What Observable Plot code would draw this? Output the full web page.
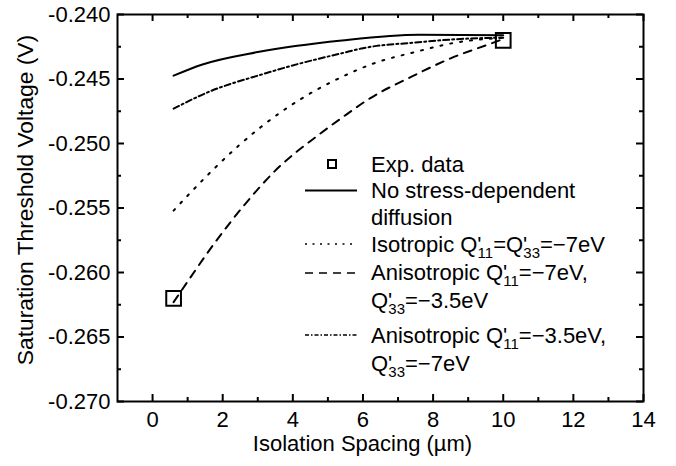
<!DOCTYPE html>
<html><head><meta charset="utf-8">
<script src="https://cdn.jsdelivr.net/npm/d3@7"></script>
<script src="https://cdn.jsdelivr.net/npm/@observablehq/plot@0.6"></script>
<style>body{margin:0;background:#fff}</style>
</head><body><div id="chart"></div>
<script>
const FONT = "'Liberation Sans', Arial, Helvetica, sans-serif";

// Experimental data
const expX = [0.6, 10];
const expY = [-0.2620, -0.2420];

// No stress-dependent diffusion (solid)
const noneX = [0.6, 1.4, 3.0, 5.4, 7.6, 10];
const noneY = [-0.24474, -0.24389, -0.24291, -0.24201, -0.24157, -0.2416];

// Isotropic Q'11=Q'33=-7eV (dotted)
const isoX = [0.6, 1.05, 1.7, 2.4, 3.1, 4.2, 5.2, 6.3, 7.5, 8.6, 10];
const isoY = [-0.2552, -0.2539, -0.2521, -0.2503, -0.2487, -0.2466, -0.2451, -0.2438, -0.2429, -0.2422, -0.2418];

// Anisotropic Q'11=-7eV, Q'33=-3.5eV (dashed)
const an1X = [0.6, 0.95, 1.8, 2.7, 3.5, 4.7, 5.4, 6.2, 7.4, 8.5, 9.7, 10];
const an1Y = [-0.2623, -0.2609, -0.2576, -0.2545, -0.2521, -0.2494, -0.2480, -0.2465, -0.2448, -0.2434, -0.2422, -0.2419];

// Anisotropic Q'11=-3.5eV, Q'33=-7eV (dash-dot)
const an2X = [0.6, 1.6, 3.1, 4.2, 5.4, 6.0, 7.5, 8.9, 10];
const an2Y = [-0.2473, -0.2460, -0.24466, -0.2438, -0.2430, -0.24261, -0.24217, -0.24188, -0.2418];

// Ticks
const xMajor = [0, 2, 4, 6, 8, 10, 12, 14];
const xMinor = [1, 3, 5, 7, 9, 11, 13];
const yMajor = [-0.270, -0.265, -0.260, -0.255, -0.250, -0.245, -0.240];
const yMinor = [-0.2675, -0.2625, -0.2575, -0.2525, -0.2475, -0.2425];

const W = 676, H = 466;
const mL = 117, mR = 33, mT = 14, mB = 65;
const fw = W - mL - mR, fh = H - mT - mB;

const pts = (xs, ys) => xs.map((x, i) => ({x, y: ys[i]}));

const series = [
  {data: pts(noneX, noneY), dash: null},
  {data: pts(isoX, isoY), dash: "2,8"},
  {data: pts(an1X, an1Y), dash: "8,7"},
  {data: pts(an2X, an2Y), dash: "6,3,2,3"}
];

function legend(index, scales, values, dims) {
  const g = d3.create("svg:g")
    .attr("font-family", FONT).attr("font-size", 22).attr("fill", "black")
    .attr("text-anchor", "start");
  const lx1 = 305, lx2 = 357, tx = 371;
  g.append("rect").attr("x", 328).attr("y", 160).attr("width", 8).attr("height", 8)
    .attr("fill", "none").attr("stroke", "black").attr("stroke-width", 2);
  const sample = (y, dash) => {
    const l = g.append("line").attr("x1", lx1).attr("x2", lx2).attr("y1", y).attr("y2", y)
      .attr("stroke", "black").attr("stroke-width", dash ? 1.5 : 2);
    if (dash) l.attr("stroke-dasharray", dash);
  };
  const line = (y, parts) => {
    const t = g.append("text").attr("x", tx).attr("y", y).attr("text-anchor", "start");
    let shifted = false;
    for (const p of parts) {
      if (typeof p === "string") {
        const s = t.append("tspan").text(p);
        if (shifted) { s.attr("dy", -6); shifted = false; }
      } else {
        t.append("tspan").attr("dx", -4).attr("dy", 6).attr("font-size", 15).text(p.sub);
        shifted = true;
      }
    }
  };
  line(172, ["Exp. data"]);
  sample(190.5, null);
  line(198, ["No stress-dependent"]);
  line(225, ["diffusion"]);
  sample(244, "2,5.5");
  line(252, ["Isotropic Q'", {sub: "11"}, "=Q'", {sub: "33"}, "=\u22127eV"]);
  sample(273, "8,6");
  line(280, ["Anisotropic Q'", {sub: "11"}, "=\u22127eV,"]);
  line(308, ["Q'", {sub: "33"}, "=\u22123.5eV"]);
  sample(335, "4,2,1.5,2");
  line(343, ["Anisotropic Q'", {sub: "11"}, "=\u22123.5eV,"]);
  line(371, ["Q'", {sub: "33"}, "=\u22127eV"]);
  return g.node();
}

const marks = [
  ...series.map(s => Plot.line(s.data, {
    x: "x", y: "y", curve: "monotone-x", stroke: "black", strokeWidth: 2,
    strokeDasharray: s.dash ?? undefined
  })),
  Plot.dot(pts(expX, expY), {x: "x", y: "y", symbol: "square", r: 8.3, stroke: "black", fill: "none", strokeWidth: 2}),
  Plot.frame({stroke: "black", strokeWidth: 2}),
  Plot.tickX(xMajor, {x: d => d, insetTop: fh - 7, strokeWidth: 2}),
  Plot.tickX(xMajor, {x: d => d, insetBottom: fh - 7, strokeWidth: 2}),
  Plot.tickX(xMinor, {x: d => d, insetTop: fh - 4, strokeWidth: 2}),
  Plot.tickX(xMinor, {x: d => d, insetBottom: fh - 4, strokeWidth: 2}),
  Plot.tickY(yMajor, {y: d => d, insetRight: fw - 7, strokeWidth: 2}),
  Plot.tickY(yMajor, {y: d => d, insetLeft: fw - 7, strokeWidth: 2}),
  Plot.tickY(yMinor, {y: d => d, insetRight: fw - 4, strokeWidth: 2}),
  Plot.tickY(yMinor, {y: d => d, insetLeft: fw - 4, strokeWidth: 2}),
  Plot.axisX({ticks: xMajor, tickSize: 0, tickPadding: 10, label: null, tickFormat: d => String(d)}),
  Plot.axisY({ticks: yMajor, tickSize: 0, tickPadding: 7, label: null, tickFormat: d => d.toFixed(3)}),
  Plot.text(["Isolation Spacing (\u00b5m)"], {frameAnchor: "bottom", text: d => d, textAnchor: "middle", lineAnchor: "middle", dx: -18, dy: 42, fontSize: 22}),
  Plot.text(["Saturation Threshold Voltage (V)"], {frameAnchor: "left", text: d => d, textAnchor: "middle", lineAnchor: "middle", rotate: -90, dx: -92, dy: -8, fontSize: 22.8}),
  legend
];

const chart = Plot.plot({
  width: W, height: H,
  marginLeft: mL, marginRight: mR, marginTop: mT, marginBottom: mB,
  style: {fontFamily: FONT, fontSize: "22px", color: "black", background: "white"},
  x: {domain: [-1, 14]},
  y: {domain: [-0.270, -0.240]},
  marks
});
document.getElementById("chart").append(chart);
</script>
</body></html>
